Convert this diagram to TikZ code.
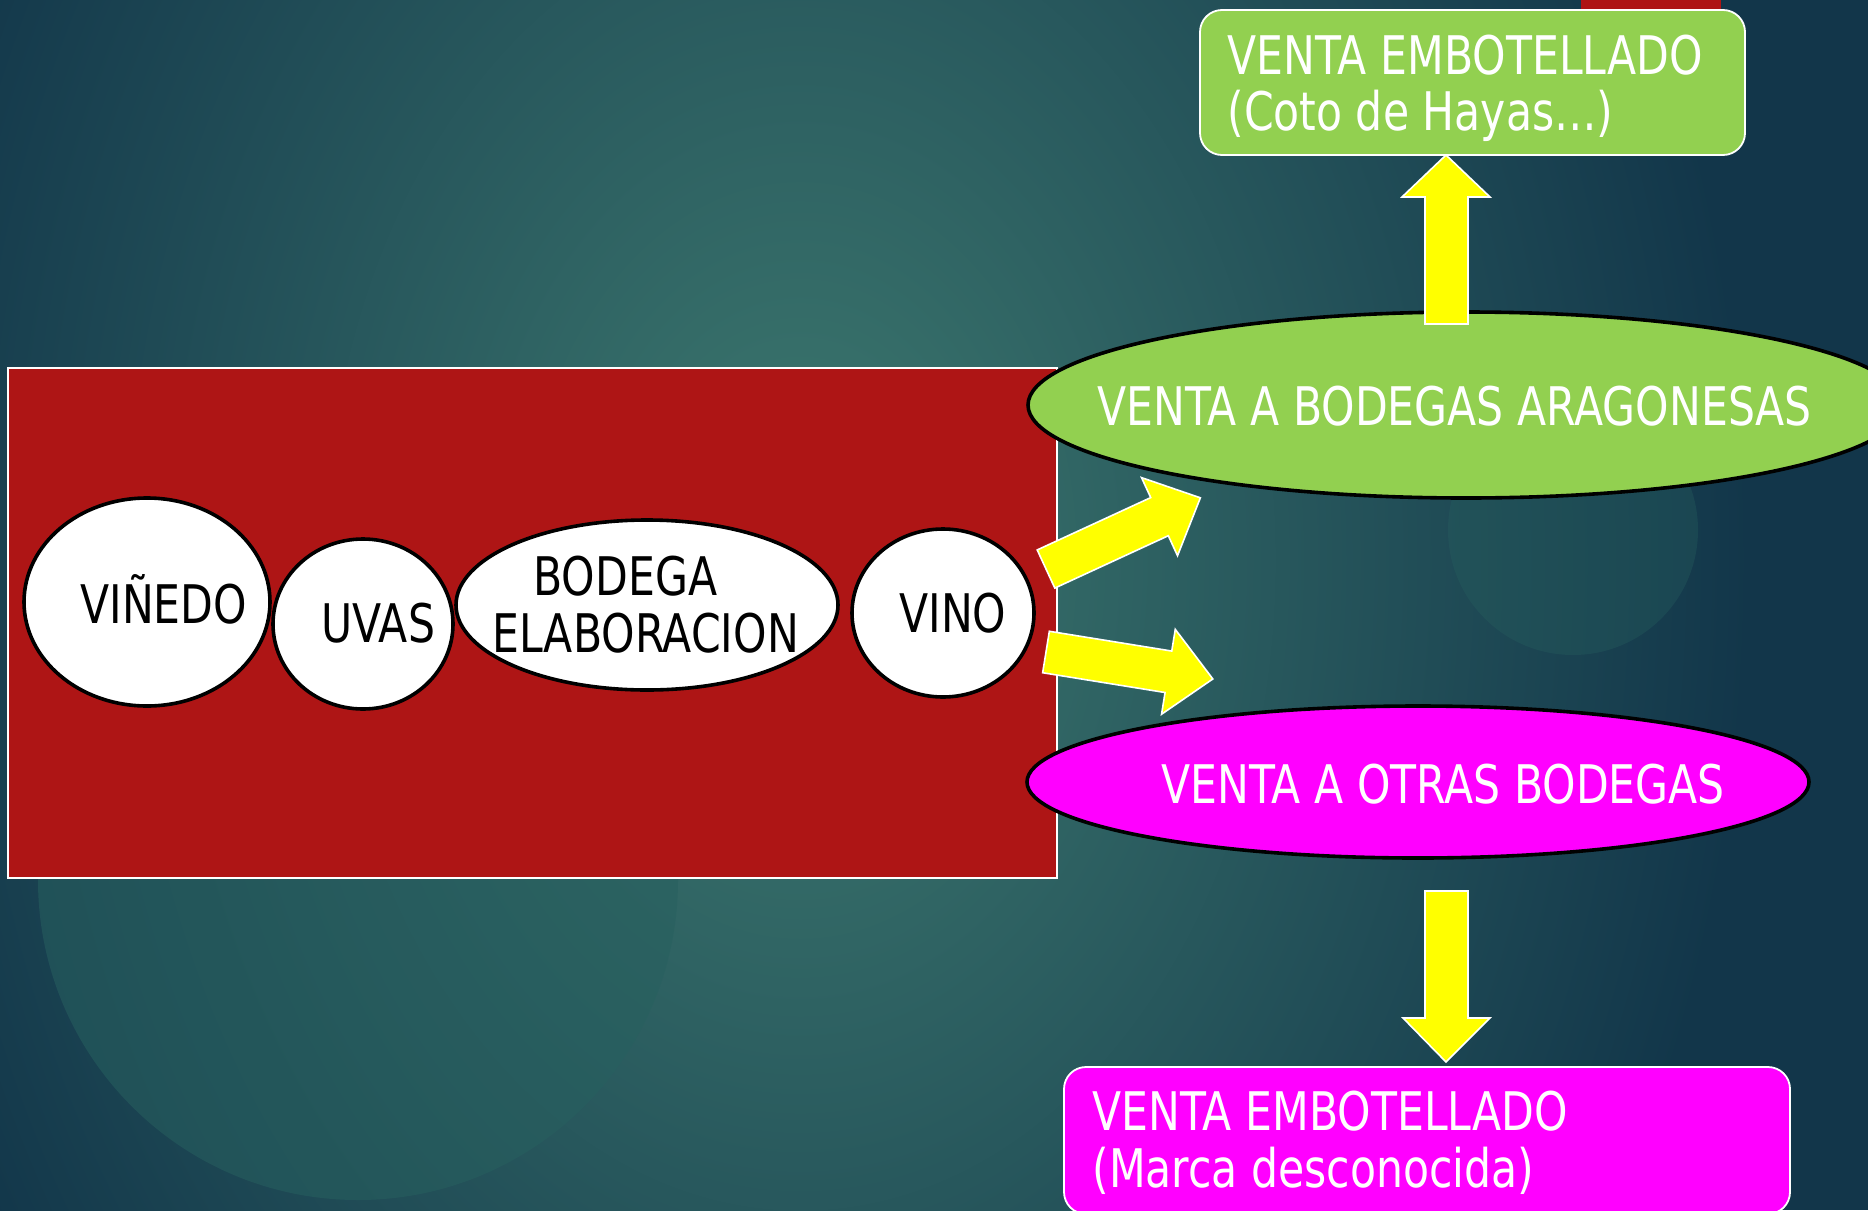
\documentclass[tikz,border=0pt]{standalone}
\usepackage{fontspec}
\setmainfont{DejaVu Sans}[FakeStretch=0.8]
\usetikzlibrary{shapes.geometric}
\definecolor{bgin}{HTML}{3D796F}
\definecolor{bgout}{HTML}{12364A}
\definecolor{bgmid}{HTML}{27605F}
\definecolor{wred}{HTML}{AE1515}
\definecolor{lgreen}{HTML}{92D050}
\definecolor{mag}{HTML}{FF00FF}
\definecolor{yel}{HTML}{FFFF00}
\tikzset{
  oval/.style={ellipse, draw=black, line width=1.8pt, inner sep=0pt},
  whiteoval/.style={oval, fill=white},
  txt/.style={inner sep=0pt, anchor=base west, font=\fontsize{26.6}{28.5}\selectfont},
  btxt/.style={txt, text=black},
  wtxt/.style={txt, text=white},
  salebox/.style={draw=white, line width=0.9pt, rounded corners=11pt},
  barrow/.style={fill=yel, draw=white, line width=0.8pt},
}
\begin{document}
\begin{tikzpicture}[x=0.5pt,y=-0.5pt]
\useasboundingbox (0,0) rectangle (1868,1210);
\begin{scope}
\clip (0,0) rectangle (1868,1210);
% background
\fill[bgout] (0,0) rectangle (1868,1210);
\shade[inner color=bgin, outer color=bgout] (800,560) ellipse [x radius=950, y radius=1300];
\fill[bgmid, opacity=0.55] (358,880) circle (320);
\fill[bgmid, opacity=0.35] (1573,530) circle (125);
% red strip top right
\fill[wred] (1581,0) rectangle (1721,12);
% red panel
\fill[wred, draw=white, line width=0.6pt] (8,368) rectangle (1057,878);
% process ellipses
\node[whiteoval, minimum width=123pt, minimum height=104pt] (vinedo) at (147,602) {};
\node[whiteoval, minimum width=90pt, minimum height=85pt] (uvas) at (363,624) {};
\node[whiteoval, minimum width=191pt, minimum height=85pt] (bodega) at (647,605) {};
\node[whiteoval, minimum width=91pt, minimum height=84pt] (vino) at (943,613) {};
\node[btxt] (tvinedo) at (80,623) {VIÑEDO};
\node[btxt] (tuvas) at (321,642) {UVAS};
\node[btxt] (tbod1) at (533,595) {BODEGA};
\node[btxt] (tbod2) at (492,652) {ELABORACION};
\node[btxt] (tvino) at (899,632) {VINO};
% sale ellipses
\node[oval, fill=lgreen, minimum width=438pt, minimum height=93pt] (arag) at (1466,405) {};
\node[wtxt] (tarag) at (1097,425) {VENTA A BODEGAS ARAGONESAS};
\node[oval, fill=mag, minimum width=391pt, minimum height=76pt] (otras) at (1418,782) {};
\node[wtxt] (totras) at (1161,803) {VENTA A OTRAS BODEGAS};
% boxes
\fill[lgreen, salebox] (1200,10) rectangle (1745,155);
\node[wtxt] (tcoto1) at (1227,74) {VENTA EMBOTELLADO};
\node[wtxt] (tcoto2) at (1227,130) {(Coto de Hayas…)};
\fill[mag, salebox] (1064,1067) rectangle (1790,1214);
\node[wtxt] (tmarca1) at (1092,1130) {VENTA EMBOTELLADO};
\node[wtxt] (tmarca2) at (1092,1187) {(Marca desconocida)};
% vertical arrows
\filldraw[barrow] (1425,324) -- (1425,197) -- (1402,197) -- (1446,155) -- (1490,197) -- (1468,197) -- (1468,324) -- cycle;
\filldraw[barrow] (1425,891) -- (1425,1018) -- (1403,1018) -- (1446,1062) -- (1490,1018) -- (1468,1018) -- (1468,891) -- cycle;
% diagonal arrows
\begin{scope}[shift={(1046,569)}, rotate=24.76]
\filldraw[barrow] (0,-21) -- (125,-21) -- (125,-43) -- (170,0) -- (125,43) -- (125,21) -- (0,21) -- cycle;
\end{scope}
\begin{scope}[shift={(1046,652)}, rotate=-9.18]
\filldraw[barrow] (0,-21) -- (124,-21) -- (124,-43) -- (169,0) -- (124,43) -- (124,21) -- (0,21) -- cycle;
\end{scope}
\end{scope}
\end{tikzpicture}
\end{document}
